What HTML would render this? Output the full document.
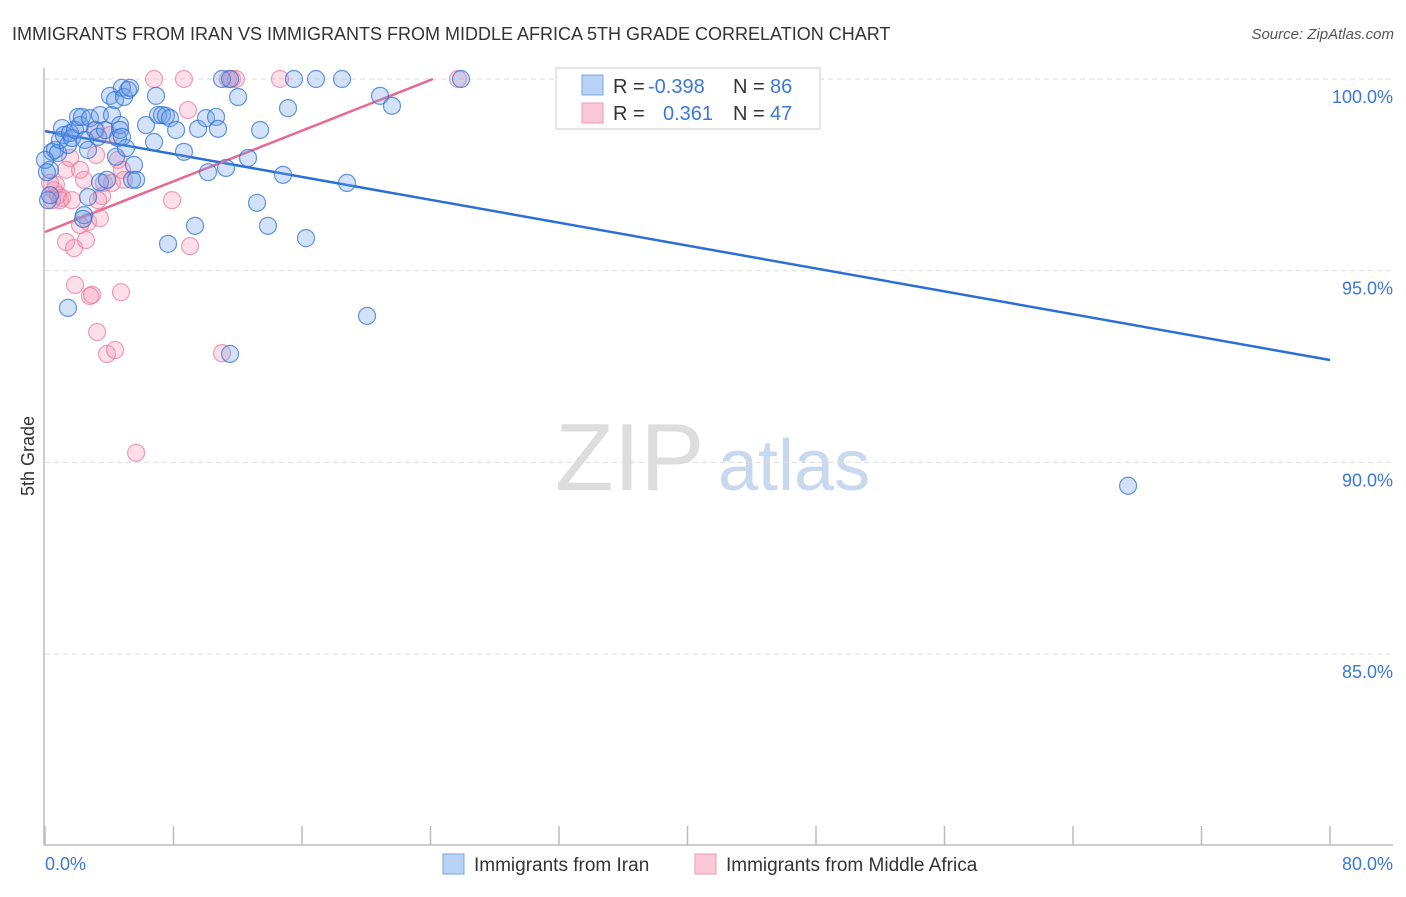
<!DOCTYPE html>
<html><head><meta charset="utf-8"><style>
body{margin:0;background:#fff;font-family:"Liberation Sans",sans-serif;}
svg text{font-family:"Liberation Sans",sans-serif;}
</style></head><body>
<svg id="chart" width="1406" height="892" viewBox="0 0 1406 892">
<text x="12" y="40" font-size="18" fill="#333">IMMIGRANTS FROM IRAN VS IMMIGRANTS FROM MIDDLE AFRICA 5TH GRADE CORRELATION CHART</text>
<text x="1394" y="39" font-size="15" fill="#555" font-style="italic" text-anchor="end">Source: ZipAtlas.com</text>
<g>
<text x="555" y="490" font-size="96" fill="#ddd" font-family="Liberation Serif">ZIP</text>
<text x="718" y="490" font-size="72" fill="#c8d8ef">atlas</text>
</g>
<g id="grid"></g>
<g id="axes"></g>
<g id="lines"></g>
<g id="points"></g>
<text transform="translate(34,456) rotate(-90)" font-size="18" fill="#333" text-anchor="middle">5th Grade</text>
<g>
<rect x="556" y="68" width="264" height="61" fill="#fff" stroke="#ddd" stroke-width="1.5"/>
<rect x="582" y="75" width="21" height="20" fill="#b7d2f5" stroke="#7aa6e3"/>
<rect x="582" y="103" width="21" height="20" fill="#fac8d6" stroke="#ee9ab4"/>
<text x="613" y="93" font-size="20" fill="#333">R = </text><text x="648" y="93" font-size="20" fill="#3b78d8">-0.398</text>
<text x="733" y="93" font-size="20" fill="#333">N = </text><text x="770" y="93" font-size="20" fill="#3b78d8">86</text>
<text x="613" y="120" font-size="20" fill="#333">R = </text><text x="663" y="120" font-size="20" fill="#3b78d8">0.361</text>
<text x="733" y="120" font-size="20" fill="#333">N = </text><text x="770" y="120" font-size="20" fill="#3b78d8">47</text>
</g>
<g>
<rect x="443" y="854" width="21" height="20" fill="#b7d2f5" stroke="#7aa6e3"/>
<text x="474" y="871" font-size="19" fill="#333">Immigrants from Iran</text>
<rect x="695" y="854" width="21" height="20" fill="#fac8d6" stroke="#ee9ab4"/>
<text x="726" y="871" font-size="19" fill="#333">Immigrants from Middle Africa</text>
</g>
</svg>
<script>
const yTicks=[100,95,90,85];
const yTickLabels=["100.0%","95.0%","90.0%","85.0%"];
const xTicks=[0,8,16,24,32,40,48,56,64,72,80];
const xTickLabels=["0.0%","80.0%"];
const iranX=[0.19,0.31,0.44,0.62,0.81,0.93,1.06,1.18,1.43,1.56,1.68,1.87,2.05,2.18,2.30,2.49,2.68,2.68,2.80,3.11,3.30,3.42,3.42,3.74,3.86,4.05,4.17,4.36,4.42,4.54,4.67,4.67,4.79,4.92,5.04,5.17,5.29,5.42,5.54,5.67,6.29,6.79,6.91,7.04,7.28,7.53,7.66,7.78,8.16,8.65,9.34,9.53,10.02,10.15,10.65,10.77,11.02,11.27,11.52,12.02,12.64,13.20,13.39,13.88,14.82,15.13,15.50,16.25,16.87,18.49,18.80,20.05,20.86,21.60,25.90,67.43,1.43,2.43,2.37,0,0.12,0.31,4.79,11.52];
const iranY=[96.84,97.63,98.10,98.15,98.07,98.41,98.72,98.54,98.28,98.59,98.46,98.67,99.01,98.80,99.01,98.41,98.15,96.92,98.98,98.67,98.49,99.06,97.31,98.67,97.37,99.56,99.06,99.45,97.97,98.46,98.80,98.67,99.77,99.53,98.20,99.71,99.77,97.37,97.76,97.37,98.80,98.36,99.56,99.06,99.06,99.04,95.70,98.98,98.67,98.10,96.17,98.70,98.98,97.57,99.01,98.70,100,97.68,92.83,99.53,97.94,96.77,98.67,96.17,97.50,99.24,100,95.85,100,100,97.29,93.82,99.56,99.30,100,89.39,94.03,96.45,96.35,97.89,97.57,96.97,98.49,100];
const africaX=[0.56,0.68,0.81,0.93,1.06,0.31,0.44,1.31,1.31,1.56,1.68,1.81,1.87,2.18,2.43,2.55,2.68,2.80,2.93,3.18,3.24,3.42,3.55,3.67,3.86,4.17,4.36,4.54,4.73,4.79,4.92,5.67,6.79,7.91,8.65,8.90,9.03,11.02,11.39,11.64,11.89,14.63,25.71,3.30,2.18,4.05,3.18];
const africaY=[97.10,97.24,96.97,96.84,96.90,97.29,96.84,95.75,97.63,97.94,96.84,95.59,94.63,97.63,97.37,95.80,96.27,94.34,94.37,98.67,93.40,96.37,96.95,97.29,92.83,97.29,92.93,97.89,94.44,97.63,97.37,90.25,100,96.84,100,99.19,95.64,92.85,100,100,100,100,100,96.84,96.19,98.54,98.02];
const iranTrendX=[0,80];
const iranTrendY=[98.64,92.67];
const africaTrendX=[0,24.15];
const africaTrendY=[96.01,100];

const X0=45,X1=1330,Y100=79,PX5=191.7;
const sx=v=>X0+(v/80)*(X1-X0);
const sy=v=>Y100+(100-v)/5*PX5;
const NS="http://www.w3.org/2000/svg";
function mk(tag,attrs,parent){const e=document.createElementNS(NS,tag);for(const k in attrs)e.setAttribute(k,attrs[k]);parent.appendChild(e);return e;}
const grid=document.getElementById('grid'),axes=document.getElementById('axes'),lines=document.getElementById('lines'),pts=document.getElementById('points');
yTicks.forEach((t,i)=>{
  const l=mk('line',{x1:X0,x2:1393,y1:sy(t),y2:sy(t),stroke:'#ddd','stroke-dasharray':'5,4'},grid);
  
  
  const tx=mk('text',{x:1393,y:sy(t)+24,'font-size':18,fill:'#3b78d8','text-anchor':'end'},axes);
  tx.textContent=yTickLabels[i];
  
  
});
const ya=mk('line',{x1:44,x2:44,y1:68,y2:845,stroke:'#bbb','stroke-width':1.5},axes);


const xa=mk('line',{x1:44,x2:1393,y1:845,y2:845,stroke:'#bbb','stroke-width':1.5},axes);


xTicks.forEach(t=>{
  const l=mk('line',{x1:sx(t),x2:sx(t),y1:826,y2:845,stroke:'#bbb','stroke-width':1.5},axes);
  
  
});
const xl0=mk('text',{x:45,y:870,'font-size':18,fill:'#3b78d8'},axes);
xl0.textContent=xTickLabels[0];


const xl1=mk('text',{x:1393,y:870,'font-size':18,fill:'#3b78d8','text-anchor':'end'},axes);
xl1.textContent=xTickLabels[1];



function dots(xs,ys,fill,stroke,name){
  xs.forEach((x,i)=>{
    const c=mk('circle',{cx:sx(x),cy:sy(ys[i]),r:8.5,fill:fill,stroke:stroke,'stroke-width':1.2},pts);
    
    
  });
}
dots(africaX,africaY,'rgba(244,150,178,0.3)','rgba(232,120,155,0.7)','point-middle-africa');
dots(iranX,iranY,'rgba(110,160,232,0.3)','rgba(50,115,215,0.75)','point-iran');
const tb=mk('line',{x1:sx(iranTrendX[0]),y1:sy(iranTrendY[0]),x2:sx(iranTrendX[1]),y2:sy(iranTrendY[1]),stroke:'#2a6fd6','stroke-width':2.5},lines);


const tp=mk('line',{x1:sx(africaTrendX[0]),y1:sy(africaTrendY[0]),x2:sx(africaTrendX[1]),y2:sy(africaTrendY[1]),stroke:'#e8698f','stroke-width':2.5},lines);


</script>
</body></html>
